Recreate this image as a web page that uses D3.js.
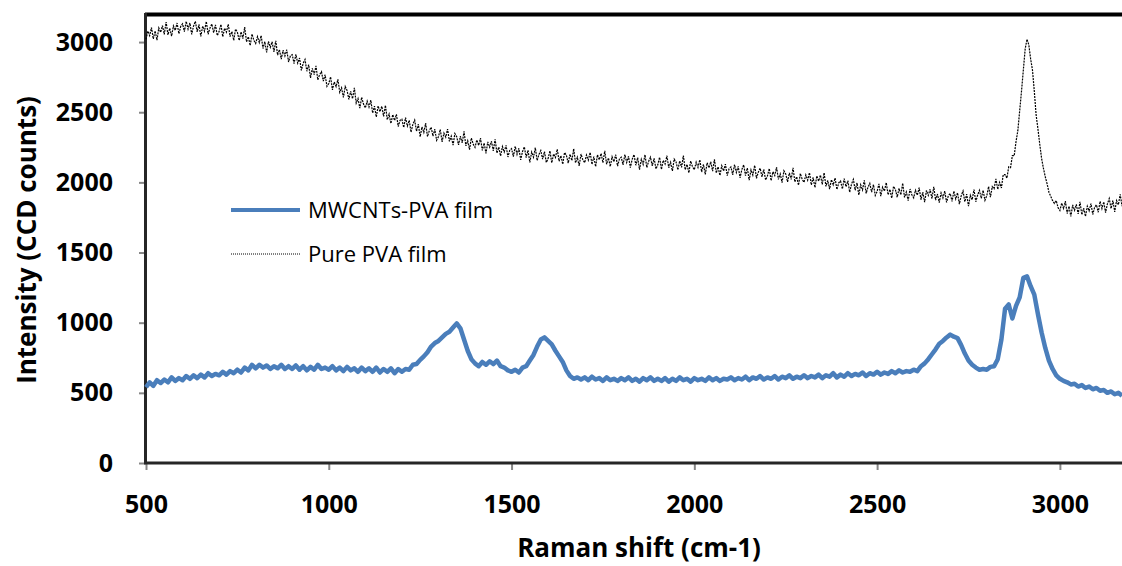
<!DOCTYPE html>
<html>
<head>
<meta charset="utf-8">
<script src="https://d3js.org/d3.v7.min.js"></script>
<style>
  body { margin: 0; background: #fff; }
  svg { display: block; font-family: "Open Sans", sans-serif; }
</style>
</head>
<body>
<div id="chart"></div>
<script>
// Raman shift grids: first point and spacing (cm-1)
var shiftStart = 500,
    pvaStep = 5,
    mwcntStep = 10

// Pure PVA film, CCD counts every 5 cm-1 from 500 to 3170
var pvaCounts = [
  3020, 3078, 3046, 3104, 3022, 3080, 3013, 3101, 3069, 3117, 3055, 3143, 3051, 3099, 3042, 3115, 3083, 3136, 3059, 3112,
  3130, 3074, 3148, 3092, 3136, 3055, 3114, 3148, 3072, 3126, 3040, 3114, 3078, 3147, 3056, 3100, 3129, 3068, 3122, 3046,
  3075, 3126, 3038, 3099, 3071, 3127, 3039, 3075, 3012, 3093, 3070, 3011, 3073, 3024, 3106, 3002, 3039, 2975, 3057, 3013,
  2990, 3039, 2997, 3046, 2954, 3003, 2926, 3005, 2963, 3002, 2930, 3009, 2907, 2946, 2879, 2943, 2901, 2945, 2858, 2902,
  2910, 2847, 2913, 2850, 2886, 2798, 2849, 2876, 2792, 2839, 2745, 2812, 2768, 2830, 2731, 2768, 2789, 2721, 2767, 2684,
  2705, 2752, 2659, 2716, 2683, 2735, 2642, 2674, 2606, 2683, 2655, 2592, 2649, 2596, 2673, 2565, 2597, 2529, 2606, 2558,
  2530, 2579, 2537, 2586, 2494, 2543, 2466, 2545, 2503, 2542, 2470, 2549, 2447, 2486, 2419, 2483, 2441, 2485, 2398, 2442,
  2450, 2391, 2461, 2402, 2442, 2358, 2413, 2444, 2364, 2415, 2325, 2396, 2356, 2422, 2327, 2368, 2393, 2329, 2379, 2300,
  2325, 2377, 2289, 2351, 2323, 2380, 2292, 2329, 2266, 2348, 2325, 2267, 2329, 2281, 2363, 2260, 2297, 2234, 2316, 2273,
  2250, 2302, 2264, 2316, 2228, 2280, 2207, 2289, 2251, 2293, 2225, 2307, 2209, 2251, 2188, 2255, 2217, 2264, 2181, 2228,
  2240, 2183, 2257, 2200, 2243, 2161, 2220, 2253, 2176, 2229, 2143, 2216, 2179, 2247, 2156, 2199, 2227, 2165, 2219, 2142,
  2170, 2224, 2139, 2203, 2177, 2236, 2151, 2190, 2129, 2213, 2193, 2137, 2201, 2155, 2240, 2139, 2178, 2117, 2202, 2161,
  2140, 2195, 2159, 2214, 2128, 2183, 2112, 2197, 2161, 2206, 2140, 2225, 2129, 2174, 2113, 2183, 2147, 2197, 2116, 2166,
  2180, 2124, 2198, 2142, 2186, 2105, 2164, 2198, 2122, 2176, 2090, 2164, 2128, 2197, 2106, 2150, 2179, 2118, 2172, 2096,
  2125, 2179, 2093, 2157, 2131, 2190, 2104, 2143, 2082, 2166, 2145, 2089, 2153, 2107, 2191, 2090, 2129, 2068, 2152, 2111,
  2090, 2144, 2107, 2161, 2074, 2128, 2056, 2140, 2103, 2147, 2080, 2164, 2067, 2111, 2049, 2118, 2081, 2130, 2048, 2097,
  2110, 2054, 2127, 2071, 2114, 2033, 2091, 2125, 2048, 2102, 2015, 2089, 2052, 2121, 2029, 2073, 2101, 2040, 2093, 2017,
  2045, 2099, 2012, 2076, 2049, 2108, 2021, 2060, 1998, 2082, 2060, 2004, 2067, 2021, 2104, 2003, 2041, 1980, 2063, 2022,
  2000, 2053, 2016, 2069, 1982, 2035, 1963, 2046, 2009, 2052, 1985, 2068, 1971, 2014, 1952, 2020, 1983, 2031, 1949, 1997,
  2010, 1953, 2026, 1969, 2012, 1930, 1988, 2021, 1944, 1997, 1910, 1983, 1946, 2014, 1922, 1965, 1993, 1931, 1984, 1907,
  1935, 1989, 1902, 1966, 1939, 1998, 1911, 1950, 1888, 1972, 1950, 1894, 1957, 1911, 1994, 1893, 1931, 1870, 1953, 1912,
  1890, 1944, 1908, 1962, 1876, 1930, 1859, 1943, 1907, 1951, 1885, 1969, 1873, 1917, 1856, 1925, 1889, 1938, 1857, 1906,
  1920, 1864, 1938, 1882, 1926, 1845, 1904, 1938, 1862, 1916, 1830, 1908, 1876, 1949, 1862, 1910, 1943, 1886, 1944, 1872,
  1905, 1970, 1895, 1970, 1955, 2025, 1950, 2000, 1960, 2055, 2055, 2030, 2110, 2105, 2190, 2190, 2290, 2370, 2510, 2650,
  2800, 2950, 3020, 2980, 2880, 2800, 2650, 2480, 2380, 2270, 2170, 2100, 2040, 1990, 1930, 1900, 1870, 1850, 1870, 1820,
  1800, 1852, 1814, 1866, 1778, 1830, 1757, 1839, 1801, 1843, 1775, 1862, 1769, 1816, 1758, 1830, 1797, 1849, 1771, 1823,
  1840, 1787, 1865, 1813, 1861, 1784, 1847, 1885, 1813, 1871, 1790, 1870, 1840, 1915, 1830
]

// MWCNTs-PVA film, CCD counts every 10 cm-1 from 500 to 3170
var mwcntCounts = [
  540, 575, 550, 590, 570, 595, 575, 610, 585, 605,
  590, 620, 600, 625, 605, 630, 610, 640, 620, 635,
  625, 650, 630, 655, 640, 665, 645, 680, 660, 700,
  675, 700, 680, 695, 670, 690, 675, 700, 670, 690,
  670, 695, 665, 690, 660, 685, 665, 700, 670, 680,
  665, 690, 660, 680, 655, 685, 660, 675, 650, 680,
  655, 675, 650, 680, 645, 670, 650, 675, 640, 670,
  650, 670, 665, 700, 705, 735, 760, 790, 830, 855,
  870, 895, 920, 935, 965, 995, 960, 880, 800, 740,
  710, 690, 720, 700, 725, 705, 730, 690, 680, 660,
  650, 665, 645, 680, 690, 730, 770, 830, 880, 895,
  870, 845, 800, 760, 720, 660, 620, 600, 610, 595,
  610, 590, 615, 595, 605, 585, 610, 590, 600, 585,
  605, 590, 610, 585, 600, 580, 605, 590, 610, 585,
  600, 585, 605, 580, 600, 585, 610, 590, 600, 580,
  605, 590, 600, 585, 610, 590, 605, 585, 600, 595,
  610, 590, 605, 595, 615, 590, 610, 600, 620, 595,
  610, 600, 620, 595, 615, 605, 625, 600, 615, 605,
  625, 605, 620, 610, 630, 605, 625, 615, 640, 610,
  630, 615, 640, 620, 635, 625, 645, 620, 640, 630,
  650, 630, 645, 635, 655, 640, 660, 645, 655, 650,
  665, 655, 690, 710, 740, 775, 810, 850, 870, 895,
  915, 900, 890, 840, 780, 730, 700, 680, 665, 670,
  665, 685, 690, 740, 880, 1100, 1130, 1030, 1120, 1180,
  1320, 1330, 1260, 1200, 1060, 930, 820, 730, 670, 625,
  600, 585, 575, 560, 565, 545, 555, 535, 545, 525,
  535, 515, 520, 500, 510, 490, 500, 480
]

var xTicks = [500, 1000, 1500, 2000, 2500, 3000],
    yTicks = [0, 500, 1000, 1500, 2000, 2500, 3000]

var seriesNames = ["MWCNTs-PVA film", "Pure PVA film"]

var width = 1122, height = 566

var svg = d3.select("#chart").append("svg")
    .attr("width", width)
    .attr("height", height)

// plot runs off the right edge of the picture, as in the original
var x = d3.scaleLinear().domain([500, 3200]).range([146, 1133])
var y = d3.scaleLinear().domain([0, 3200]).range([463, 14])

function toPoints(arr, step) {
  return arr.map(function(v, i) { return [shiftStart + i*step, v] })
}

var line = d3.line()
    .x(function(d) { return x(d[0]) })
    .y(function(d) { return y(d[1]) })

// axes with gray outward ticks
svg.append("g")
    .attr("transform", "translate(146,0)")
    .call(d3.axisLeft(y).tickValues(yTicks).tickFormat(d3.format("d"))
      .tickSize(7).tickPadding(26))
svg.append("g")
    .attr("transform", "translate(0,463)")
    .call(d3.axisBottom(x).tickValues(xTicks).tickFormat(d3.format("d"))
      .tickSize(7).tickPadding(25))

svg.selectAll(".domain").remove()
svg.selectAll(".tick line")
    .style("stroke", "#868686")
    .style("stroke-width", 2)
svg.selectAll(".tick text")
    .style("font-size", "25px")
    .style("font-weight", "bold")
    .style("fill", "#000")
    .style("font-family", "'Open Sans', sans-serif")

// plot frame
svg.append("line")
    .attr("x1", 145).attr("x2", width)
    .attr("y1", 14.5).attr("y2", 14.5)
    .style("stroke", "#000")
    .style("stroke-width", 4)
svg.append("line")
    .attr("x1", 145.5).attr("x2", 145.5)
    .attr("y1", 13).attr("y2", 464)
    .style("stroke", "#262626")
    .style("stroke-width", 3)
svg.append("line")
    .attr("x1", 144).attr("x2", width)
    .attr("y1", 463).attr("y2", 463)
    .style("stroke", "#262626")
    .style("stroke-width", 3)

// series
svg.append("path")
    .datum(toPoints(mwcntCounts, mwcntStep))
    .attr("d", line)
    .style("fill", "none")
    .style("stroke", "#4a7ebb")
    .style("stroke-width", 4.5)
    .style("stroke-linejoin", "round")

svg.append("path")
    .datum(toPoints(pvaCounts, pvaStep))
    .attr("d", line)
    .style("fill", "none")
    .style("stroke", "#000")
    .style("stroke-width", 1.2)
    .style("stroke-dasharray", "2,1")

// legend
var legend = svg.append("g")
legend.append("line")
    .attr("x1", 231).attr("x2", 300)
    .attr("y1", 210).attr("y2", 210)
    .style("stroke", "#4a7ebb")
    .style("stroke-width", 4)
legend.append("line")
    .attr("x1", 231).attr("x2", 300)
    .attr("y1", 254).attr("y2", 254)
    .style("stroke", "#000")
    .style("stroke-width", 1)
    .style("stroke-dasharray", "1,1")
legend.selectAll("text")
    .data(seriesNames)
  .enter().append("text")
    .attr("x", 308)
    .attr("y", function(d, i) { return 210 + i*44 })
    .attr("dy", "0.35em")
    .style("font-size", "22px")
    .style("fill", "#000")
    .text(function(d) { return d })

// axis titles
svg.append("text")
    .attr("x", 639)
    .attr("y", 557)
    .attr("text-anchor", "middle")
    .style("font-size", "26px")
    .style("font-weight", "bold")
    .text("Raman shift (cm-1)")

svg.append("text")
    .attr("transform", "translate(36,240) rotate(-90)")
    .attr("text-anchor", "middle")
    .style("font-size", "26px")
    .style("font-weight", "bold")
    .text("Intensity (CCD counts)")
</script>
</body>
</html>
